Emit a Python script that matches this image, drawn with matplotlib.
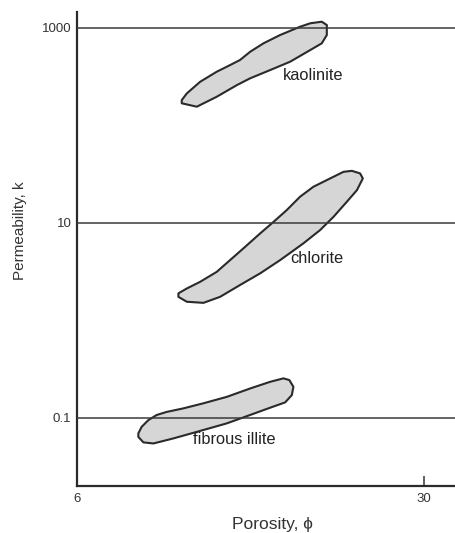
import numpy as np
import matplotlib
matplotlib.use("Agg")
import matplotlib.pyplot as plt
from matplotlib.patches import Polygon

plt.rcParams['font.family'] = ['Liberation Sans', 'DejaVu Sans']

# outlines of each clay field: porosity (%) and permeability (md)
kaolinite_phi = [13.24, 14.28, 15.66, 17.05, 17.97, 19.35, 20.73, 22.12, 22.92, 23.27,
                 23.27, 22.92, 22.12, 21.42, 20.04, 18.89, 17.97, 17.27, 16.58, 15.66,
                 14.51, 13.59, 13.24]
kaolinite_k = [168, 155, 196, 258, 303, 368, 448, 590, 692, 842,
               1066, 1153, 1110, 1024, 842, 692, 567, 467, 414, 354,
               279, 212, 181]

chlorite_phi = [13.01, 13.59, 14.74, 15.89, 17.27, 18.66, 20.04, 21.65, 22.81, 23.73,
                24.65, 25.35, 25.76, 25.57, 25.0, 24.42, 23.50, 22.34, 21.42, 20.50,
                19.58, 18.66, 17.50, 16.58, 15.66, 14.51, 13.59, 13.01]
chlorite_k = [1.74, 1.55, 1.51, 1.74, 2.30, 3.03, 4.14, 6.15, 8.43, 11.5,
              16.4, 21.6, 28.5, 32.1, 34.1, 33.3, 28.5, 23.4, 18.5, 13.5,
              10.2, 7.78, 5.46, 4.14, 3.14, 2.48, 2.12, 1.89]

illite_phi = [10.24, 10.59, 11.28, 12.66, 14.28, 16.35, 17.97, 19.35, 20.39, 20.85,
              20.96, 20.68, 20.27, 19.35, 17.97, 16.35, 14.74, 13.35, 12.20, 11.51,
              10.93, 10.47, 10.24]
illite_k = [0.0638, 0.0560, 0.0546, 0.0615, 0.0718, 0.0877, 0.107, 0.127, 0.144, 0.171,
            0.208, 0.244, 0.254, 0.234, 0.200, 0.164, 0.141, 0.125, 0.115, 0.107,
            0.0947, 0.0809, 0.0692]

labels = ["kaolinite", "chlorite", "fibrous illite"]
label_phi = [20.25, 20.75, 14.0]
label_k = [320, 4.3, 0.0605]

k_ticks = [0.1, 10, 1000]
k_ticklabels = ["0.1", "10", "1000"]
phi_ticks = [6, 30]

fig = plt.figure(figsize=(4.56, 5.33), dpi=100)
ax = fig.add_axes([77/456, 1 - 486/533, 1 - 77/456, (486 - 12)/533])
ax.set_yscale("log")
ax.set_xlim(6, 32.2)
ax.set_ylim(0.02, 1450)

for phi, k in [(kaolinite_phi, kaolinite_k), (chlorite_phi, chlorite_k), (illite_phi, illite_k)]:
    poly = Polygon(np.column_stack([phi, k]), closed=True, facecolor="#d6d6d6",
                   edgecolor="#2a2a2a", linewidth=1.5, joinstyle="round", zorder=2)
    ax.add_patch(poly)

# reference lines run across the shaded fields
for t in k_ticks:
    ax.axhline(t, color="#3a3a3a", linewidth=1.1, zorder=3)

for name, x, y in zip(labels, label_phi, label_k):
    ax.text(x, y, name, fontsize=11.8, color="#222222", va="center", ha="left", zorder=4)

ax.set_yticks(k_ticks)
ax.set_yticklabels(k_ticklabels)
ax.yaxis.set_minor_locator(matplotlib.ticker.NullLocator())
ax.set_xticks(phi_ticks)
ax.set_xticklabels([str(p) for p in phi_ticks])
ax.tick_params(axis="y", length=0, pad=4, labelsize=9.5, labelcolor="#333333")
ax.tick_params(axis="x", direction="in", length=7, width=1.1, pad=5,
               labelsize=9.5, labelcolor="#333333", color="#333333")

for side in ["top", "right"]:
    ax.spines[side].set_visible(False)
for side in ["left", "bottom"]:
    ax.spines[side].set_linewidth(1.6)
    ax.spines[side].set_color("#2a2a2a")

fig.text(272/456, 1 - 525/533, "Porosity, ϕ", fontsize=12.5, ha="center", va="center",
         color="#333333")
fig.text(20/456, 1 - 231/533, "Permeability, k", fontsize=11, ha="center", va="center",
         rotation=90, color="#333333")

plt.savefig("out.png", dpi=100)
